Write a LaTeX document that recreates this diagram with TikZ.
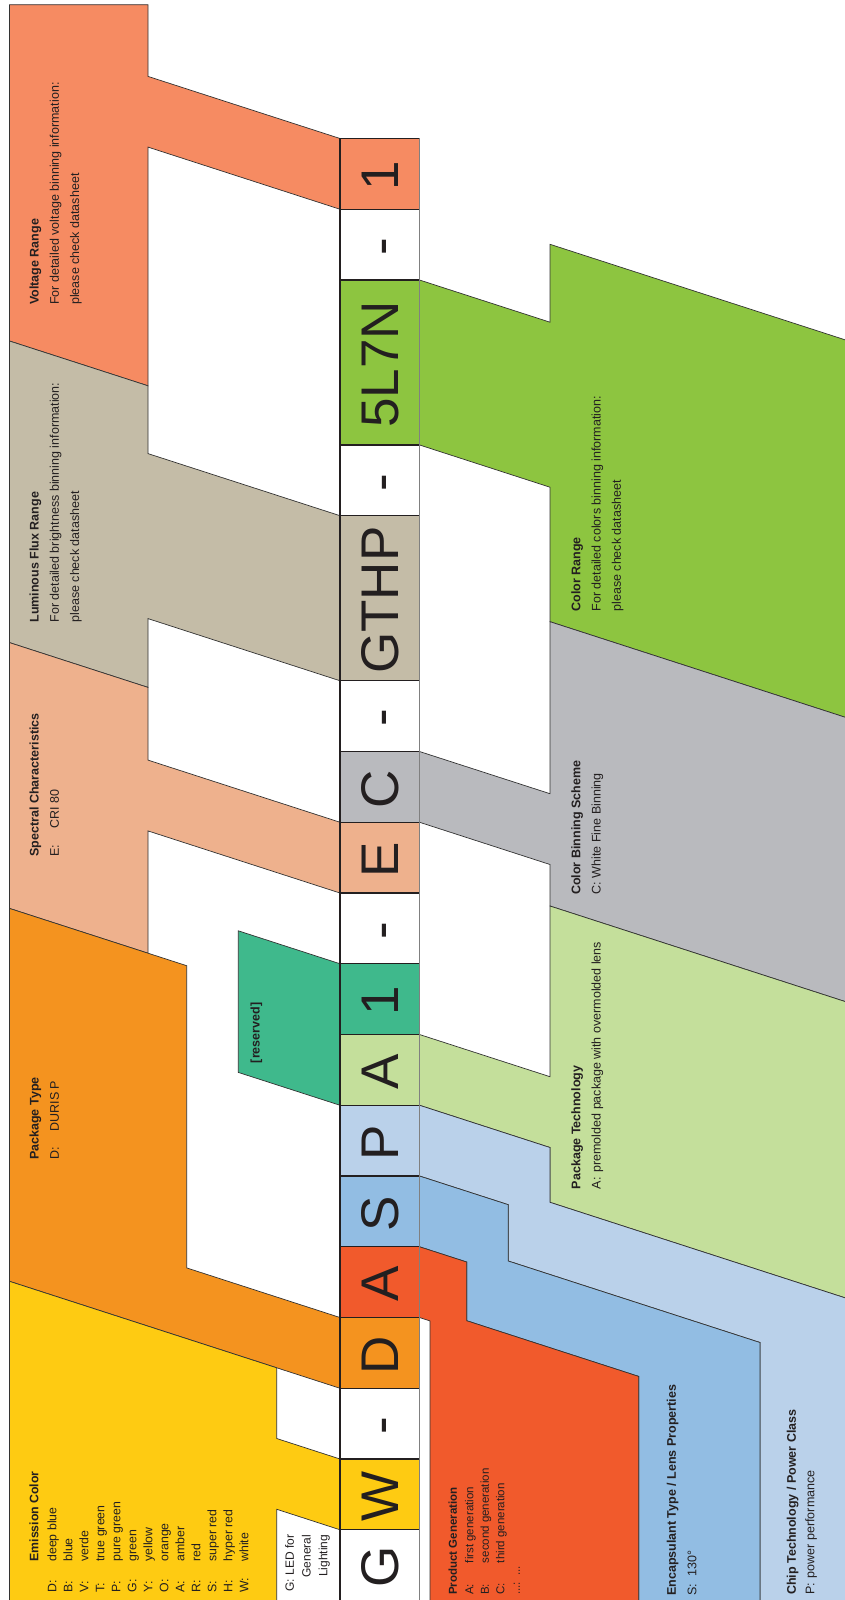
\documentclass[tikz,border=0pt]{standalone}
\usepackage{fontspec}
\setmainfont{Liberation Sans}
\usepackage{tikz}
\usepackage{xcolor}
\definecolor{inkgrey}{HTML}{231F20}
\definecolor{edgegrey}{HTML}{333333}
\definecolor{voltage}{HTML}{F68B62}
\definecolor{lumflux}{HTML}{C4BCA7}
\definecolor{spectral}{HTML}{EEB18D}
\definecolor{pkgtype}{HTML}{F4931F}
\definecolor{emission}{HTML}{FECB12}
\definecolor{reserved}{HTML}{3FB98C}
\definecolor{prodgen}{HTML}{F15A2C}
\definecolor{encaps}{HTML}{92BDE3}
\definecolor{chiptech}{HTML}{BAD1EA}
\definecolor{pkgtech}{HTML}{C4DF9B}
\definecolor{binning}{HTML}{B9BABE}
\definecolor{colrange}{HTML}{8DC540}
\pgfdeclarelayer{background}
\pgfsetlayers{background,main}
\newcommand{\keycol}[2]{\makebox[#1][l]{#2}}
\tikzset{
  cell/.style={draw=inkgrey,line width=1.3pt,minimum width=79.5pt,inner sep=0pt,outer sep=0pt,anchor=north},
  code/.style={rotate=90,inner sep=0pt,text=inkgrey,font=\fontsize{53}{53}\selectfont,text height=38pt,text depth=0pt,xshift=-2pt},
  panel/.style={draw=edgegrey,line width=0.7pt},
  desc/.style={rotate=90,anchor=north west,align=left,inner sep=0pt,text=inkgrey,font=\fontsize{12.5}{20.3}\selectfont},
}

\begin{document}
\begin{tikzpicture}[x=1pt,y=-1pt]
\useasboundingbox (0,0) rectangle (844,1600);
\clip (0,0) rectangle (844,1600);

\foreach \nm/\yt/\h/\col/\txt in {cOne/138.5/70.75/voltage/1, dFour/209.25/70.75/white/-,
    cCol/280/164.95/colrange/5L7N, dThree/444.95/70.75/white/-, cLum/515.7/165.05/lumflux/GTHP,
    dTwo/680.75/70.75/white/-, cBin/751.5/70.75/binning/C, cSpec/822.25/70.75/spectral/E,
    dOne/893/70.75/white/-, cRes/963.75/70.75/reserved/1, cTech/1034.5/70.75/pkgtech/A,
    cChip/1105.25/70.75/chiptech/P, cEnc/1176/70.75/encaps/S, cGen/1246.75/70.75/prodgen/A,
    cPkg/1317.5/70.75/pkgtype/D, dZero/1388.25/70.75/white/-, cEmi/1459/70.75/emission/W,
    cLed/1529.75/70.75/white/G}{
  \node[cell,fill=\col,minimum height=\h pt] (\nm) at (379.75,\yt) {};
  \node[code] at (\nm) {\txt};
}
\draw[gray,line width=1.3pt] (cOne.north east) -- (cLed.south east);

\begin{pgfonlayer}{background}
% upper side
\filldraw[panel,fill=voltage] (9.5,4.7) -- (148,4.7) -- (148,76.4) -- (cOne.north west)
  -- (cOne.south west) -- (148,147.1) -- (148,385.8) -- (9.5,341) -- cycle;
\filldraw[panel,fill=lumflux] (9.5,341) -- (148,385.8) -- (148,453.6) -- (cLum.north west)
  -- (cLum.south west) -- (148,618.6) -- (148,687.4) -- (9.5,642.6) -- cycle;
\filldraw[panel,fill=spectral] (9.5,642.6) -- (148,687.4) -- (148,760.1) -- (cSpec.north west)
  -- (cSpec.south west) -- (148,830.9) -- (148,953.2) -- (9.5,908.4) -- cycle;
\filldraw[panel,fill=pkgtype] (9.5,908.4) -- (186.7,965.7) -- (186.7,1267.9) -- (cPkg.north west)
  -- (cPkg.south west) -- (9.5,1281.3) -- cycle;
\filldraw[panel,fill=emission] (9.5,1281.3) -- (276.7,1367.8) -- (276.7,1438.5) -- (cEmi.north west)
  -- (cEmi.south west) -- (276.7,1509.25) -- (276.7,1605) -- (9.5,1605) -- cycle;
\filldraw[panel,fill=reserved] (cRes.north west) -- (238.3,930.8) -- (238.3,1072.4) -- (cTech.south west) -- cycle;
% lower side
\filldraw[panel,fill=colrange] (cCol.north east) -- (550,322.2) -- (550,244.3) -- (900,357.6)
  -- (900,735) -- (550,621.7) -- (550,487.2) -- (cCol.south east) -- cycle;
\filldraw[panel,fill=binning] (cBin.north east) -- (550,793.7) -- (550,621.7) -- (900,735)
  -- (900,1019.3) -- (550,906) -- (550,864.5) -- (cBin.south east) -- cycle;
\filldraw[panel,fill=pkgtech] (cTech.north east) -- (550,1076.7) -- (550,906) -- (900,1019.3)
  -- (900,1315.6) -- (550,1202.3) -- (550,1147.5) -- (cTech.south east) -- cycle;
\filldraw[panel,fill=chiptech] (cChip.north east) -- (550,1147.5) -- (550,1202.3) -- (900,1315.6)
  -- (900,1605) -- (760,1605) -- (760,1342.5) -- (508.3,1261) -- (508.3,1204.7) -- (cChip.south east) -- cycle;
\filldraw[panel,fill=encaps] (cEnc.north east) -- (508.3,1204.7) -- (508.3,1261) -- (760,1342.5)
  -- (760,1605) -- (638.7,1605) -- (638.7,1376.4) -- (466.7,1320.7) -- (466.7,1262) -- (cEnc.south east) -- cycle;
\filldraw[panel,fill=prodgen] (cGen.north east) -- (466.7,1262) -- (466.7,1320.7) -- (638.7,1376.4)
  -- (638.7,1605) -- (430,1605) -- (430,1320.9) -- (cGen.south east) -- cycle;
\end{pgfonlayer}

\node[desc] (volttxt) at (29.3,305) {\textbf{Voltage Range}\\For detailed voltage binning information:\\please check datasheet};
\node[desc] (lumtxt) at (29.3,622.7) {\textbf{Luminous Flux Range}\\For detailed brightness binning information:\\please check datasheet};
\node[desc] (spectxt) at (29.3,856.7) {\textbf{Spectral Characteristics}\\\keycol{28.3pt}{E:}CRI 80};
\node[desc] (pkgtxt) at (29.3,1160) {\textbf{Package Type}\\\keycol{28.3pt}{D:}DURIS P};
\node[desc,font=\fontsize{12.3}{16}\selectfont] (emitxt) at (29.3,1592.7) {\hspace*{31pt}\textbf{Emission Color}\\[2pt]
  \keycol{31pt}{D:}deep blue\\\keycol{31pt}{B:}blue\\\keycol{31pt}{V:}verde\\\keycol{31pt}{T:}true green\\
  \keycol{31pt}{P:}pure green\\\keycol{31pt}{G:}green\\\keycol{31pt}{Y:}yellow\\\keycol{31pt}{O:}orange\\
  \keycol{31pt}{A:}amber\\\keycol{31pt}{R:}red\\\keycol{31pt}{S:}super red\\\keycol{31pt}{H:}hyper red\\
  \keycol{31pt}{W:}white};
\node[rotate=90,anchor=north east,align=right,inner sep=0pt,text=inkgrey,font=\fontsize{12}{16.7}\selectfont] (ledtxt) at (285,1534.5) {G: LED for\\General\\Lighting};
\node[rotate=90,inner sep=0pt,text=inkgrey,font=\bfseries\fontsize{12.5}{14}\selectfont] (restxt) at (256.3,1032.8) {[reserved]};

\node[desc] (rangetxt) at (571,611.7) {\textbf{Color Range}\\For detailed colors binning information:\\please check datasheet};
\node[desc] (bintxt) at (571,895) {\textbf{Color Binning Scheme}\\\keycol{16.7pt}{C:}White Fine Binning};
\node[desc] (techtxt) at (571,1189.3) {\textbf{Package Technology}\\\keycol{16.6pt}{A:}premolded package with overmolded lens};
\node[desc,font=\fontsize{11.5}{15.5}\selectfont] (gentxt) at (448.3,1595) {\textbf{Product Generation}\\[1pt]
  \keycol{31.7pt}{A:}first generation\\\keycol{31.7pt}{B:}second generation\\\keycol{31.7pt}{C:}third generation\\...:\ \ ...};
\node[desc] (enctxt) at (666.7,1596) {\textbf{Encapsulant Type / Lens Properties}\\\keycol{19.3pt}{S:}130°};
\node[desc,font=\fontsize{12.5}{18.4}\selectfont] (chiptxt) at (786.7,1595) {\textbf{Chip Technology / Power Class}\\\keycol{16.7pt}{P:}power performance};
\end{tikzpicture}
\end{document}
